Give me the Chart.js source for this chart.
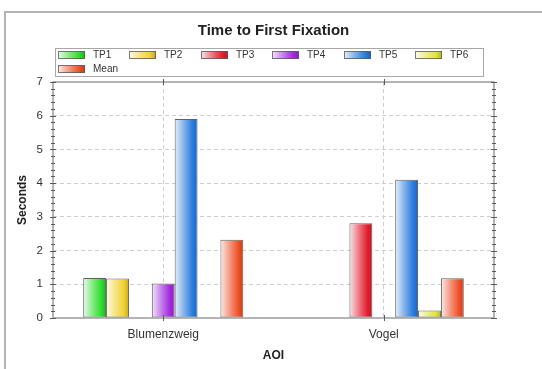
<!DOCTYPE html>
<html>
<head>
<meta charset="utf-8">
<script src="https://cdn.jsdelivr.net/npm/chart.js@4/dist/chart.umd.min.js"></script>
<style>
  html, body { margin: 0; padding: 0; background: #fff; }
  canvas { display: block; }
</style>
</head>
<body>
<canvas id="chart" width="542" height="369"></canvas>
<script>
// Time to first fixation per area of interest (seconds)
const categories = ['Blumenzweig', 'Vogel'];
const seriesNames = ['TP1', 'TP2', 'TP3', 'TP4', 'TP5', 'TP6', 'Mean'];
const tp1 = [1.19, null];
const tp2 = [1.17, null];
const tp3 = [null, 2.81];
const tp4 = [1.02, null];
const tp5 = [5.90, 4.10];
const tp6 = [null, 0.22];
const mean = [2.32, 1.18];
const yTicks = [0, 1, 2, 3, 4, 5, 6, 7];

const seriesValues = [tp1, tp2, tp3, tp4, tp5, tp6, mean];
const seriesColors = ['#2fe02f', '#f2d230', '#e5202f', '#a42be0', '#2a7de0', '#e2e43c', '#f0522a'];

const FONT = '"Liberation Sans", Arial, sans-serif';

function hexToRgb(h) {
  const n = parseInt(h.slice(1), 16);
  return [(n >> 16) & 255, (n >> 8) & 255, n & 255];
}
function tint(h, t) { // mix toward white
  const [r, g, b] = hexToRgb(h);
  return `rgb(${Math.round(r + (255 - r) * t)},${Math.round(g + (255 - g) * t)},${Math.round(b + (255 - b) * t)})`;
}
function shade(h, f) { // darken
  const [r, g, b] = hexToRgb(h);
  return `rgb(${Math.round(r * f)},${Math.round(g * f)},${Math.round(b * f)})`;
}
function sideGradient(ctx, x0, x1, base) {
  const g = ctx.createLinearGradient(x0, 0, x1, 0);
  g.addColorStop(0, tint(base, 0.88));
  g.addColorStop(0.45, tint(base, 0.35));
  g.addColorStop(0.78, base);
  g.addColorStop(1, shade(base, 0.78));
  return g;
}

const datasets = seriesNames.map((name, i) => ({
  label: name,
  data: seriesValues[i],
  baseColor: seriesColors[i],
  backgroundColor: seriesColors[i],
  borderColor: 'rgba(70,70,70,0.85)',
  borderWidth: 1,
  borderSkipped: false,
  barPercentage: 1.0,
  categoryPercentage: 0.726
}));

// Horizontal light-to-saturated shading on every bar, sized from the bar element itself
const barShading = {
  id: 'barShading',
  beforeDatasetsDraw(chart) {
    const ctx = chart.ctx;
    chart.data.datasets.forEach((ds, i) => {
      chart.getDatasetMeta(i).data.forEach(el => {
        if (!isFinite(el.x) || !isFinite(el.y) || !isFinite(el.width)) return;
        const half = el.width / 2;
        const g = sideGradient(ctx, el.x - half, el.x + half, ds.baseColor);
        el.options = Object.assign({}, el.options, { backgroundColor: g });
      });
    });
  }
};

// Page frame, plot frame, axis tick marks and the boxed legend
const decorations = {
  id: 'decorations',
  beforeDraw(chart) {
    const ctx = chart.ctx;
    ctx.save();
    ctx.fillStyle = '#fff';
    ctx.fillRect(0, 0, chart.width, chart.height);
    ctx.strokeStyle = '#b4b4b4';
    ctx.lineWidth = 2;
    ctx.beginPath();
    ctx.moveTo(5, chart.height);
    ctx.lineTo(5, 12);
    ctx.lineTo(chart.width, 12);
    ctx.stroke();
    ctx.restore();
  },
  afterDraw(chart) {
    const ctx = chart.ctx;
    const a = chart.chartArea;
    const ys = chart.scales.y;
    const xs = chart.scales.x;
    ctx.save();
    // plot frame
    ctx.strokeStyle = '#9c9c9c';
    ctx.lineWidth = 1.5;
    ctx.strokeRect(a.left, a.top, a.right - a.left, a.bottom - a.top);

    // tick marks on left and right value axes (majors every 1, minors every 0.2)
    ctx.strokeStyle = '#5a5a5a';
    ctx.lineWidth = 1;
    ctx.beginPath();
    for (let k = 0; k <= 35; k++) {
      const y = Math.round(ys.getPixelForValue(k / 5)) + 0.5;
      const len = (k % 5 === 0) ? 3 : 2;
      [a.left, a.right].forEach(x => {
        ctx.moveTo(x - len, y);
        ctx.lineTo(x + len, y);
      });
    }
    // tick marks at category centres on bottom and top edges
    categories.forEach((c, i) => {
      const x = Math.round(xs.getPixelForValue(i)) + 0.5;
      [a.bottom, a.top].forEach(y => {
        ctx.moveTo(x, y - 3);
        ctx.lineTo(x, y + 3);
      });
    });
    ctx.stroke();

    // legend box
    const lx0 = a.left + 2, ly0 = 48, lx1 = 483, ly1 = 76;
    ctx.fillStyle = '#fff';
    ctx.fillRect(lx0, ly0, lx1 - lx0, ly1 - ly0);
    ctx.strokeStyle = '#a8a8a8';
    ctx.lineWidth = 1;
    ctx.strokeRect(lx0 + 0.5, ly0 + 0.5, lx1 - lx0, ly1 - ly0);

    const perRow = 6, stride = 71.4, sw = 27, sh = 8;
    ctx.font = '10px ' + FONT;
    ctx.textBaseline = 'middle';
    ctx.textAlign = 'left';
    chart.data.datasets.forEach((ds, i) => {
      const col = i % perRow, row = Math.floor(i / perRow);
      const sx = Math.round(lx0 + 3 + col * stride);
      const cy = 54.5 + row * 14;
      const sy = Math.round(cy - sh / 2);
      ctx.fillStyle = sideGradient(ctx, sx, sx + sw, ds.baseColor);
      ctx.fillRect(sx, sy, sw, sh);
      ctx.strokeStyle = 'rgba(90,90,90,0.8)';
      ctx.strokeRect(sx + 0.5, sy + 0.5, sw - 1, sh - 1);
      ctx.fillStyle = '#333';
      ctx.fillText(ds.label, sx + sw + 8, cy + 0.5);
    });
    ctx.restore();
  }
};

new Chart(document.getElementById('chart'), {
  type: 'bar',
  data: { labels: categories, datasets },
  plugins: [barShading, decorations],
  options: {
    responsive: false,
    animation: false,
    devicePixelRatio: 1,
    layout: { padding: { left: 0, right: 48, top: 14, bottom: 0 } },
    plugins: {
      legend: { display: false },
      tooltip: { enabled: false },
      title: {
        display: true,
        text: 'Time to First Fixation',
        fullSize: false,
        color: '#222',
        font: { family: FONT, size: 15, weight: 'bold' },
        padding: { top: 7.4, bottom: 42.6 }
      }
    },
    scales: {
      x: {
        afterFit(s) { s.height = 51; },
        grid: {
          offset: false,
          drawTicks: false,
          color: '#cfcfcf',
          lineWidth: 1
        },
        border: { display: false, dash: [4, 3] },
        ticks: {
          padding: 9,
          color: '#333',
          font: { family: FONT, size: 12 }
        },
        title: {
          display: true,
          text: 'AOI',
          color: '#222',
          font: { family: FONT, size: 12, weight: 'bold' },
          padding: { top: 0, bottom: 6 }
        }
      },
      y: {
        min: 0,
        max: 7,
        afterFit(s) { s.width = 53; },
        afterBuildTicks(s) { s.ticks = yTicks.map(v => ({ value: v })); },
        grid: {
          drawTicks: false,
          color: c => (c.tick && c.tick.value > 0 && c.tick.value < 7) ? '#cfcfcf' : 'rgba(0,0,0,0)',
          lineWidth: 1
        },
        border: { display: false, dash: [4, 3] },
        ticks: {
          padding: 10,
          color: '#333',
          font: { family: FONT, size: 11.5 }
        },
        title: {
          display: true,
          text: 'Seconds',
          color: '#222',
          font: { family: FONT, size: 12, weight: 'bold' },
          padding: { top: 15, bottom: 0 }
        }
      }
    }
  }
});
</script>
</body>
</html>
